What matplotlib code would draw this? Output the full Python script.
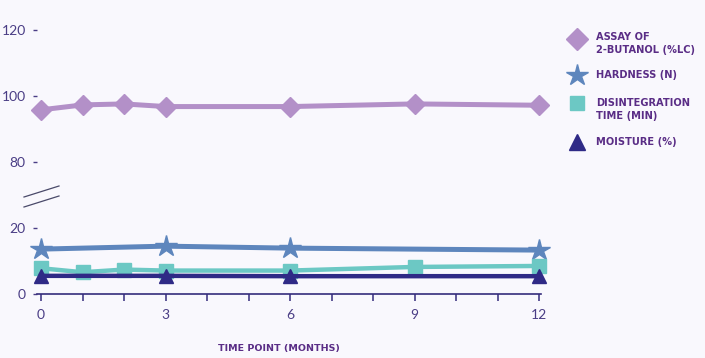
import matplotlib
matplotlib.use("Agg")
import numpy as np
from matplotlib import pyplot as plt
from matplotlib.lines import Line2D

plt.rcParams['font.family'] = ['Lato', 'DejaVu Sans']

# data
months_full = [0, 1, 2, 3, 6, 9, 12]
months_part = [0, 3, 6, 12]
assay = [95.8, 97.3, 97.6, 96.8, 96.8, 97.6, 97.2]
hardness = [13.6, 14.5, 13.9, 13.3]
disintegration = [7.8, 6.6, 7.4, 7.1, 7.1, 8.2, 8.5]
moisture = [5.5, 5.5, 5.4, 5.4]

ytick_vals = [0, 20, 80, 100, 120]
xtick_labels = [0, 3, 6, 9, 12]

legend_labels = ['ASSAY OF\n2-BUTANOL (%LC)', 'HARDNESS (N)',
                 'DISINTEGRATION\nTIME (MIN)', 'MOISTURE (%)']

c_assay = '#b390c8'
c_hard = '#5e86bd'
c_dis = '#6cc8c4'
c_moist = '#2f2a86'
c_text = '#4a3d85'
c_leg = '#5a2d86'
bg = '#f9f8fd'
label_font = ['DejaVu Sans']

def squash(v):
    # broken axis: 20..80 squeezed into one 20-unit step
    v = np.asarray(v, dtype=float)
    return np.where(v >= 80, v - 40, v)

fig = plt.figure(figsize=(7.05, 3.58), dpi=100, facecolor=bg)
W, H = 705, 358
x0, x1 = -0.1, 12.05
pxm = 41.5
left_px = 41 + x0 * pxm
right_px = 539 + (x1 - 12) * pxm
ytop = 81
top_px = 294 - ytop * 3.3
ax = fig.add_axes([left_px / W, 1 - 294 / H, (right_px - left_px) / W, (294 - top_px) / H])
ax.set_facecolor(bg)

kw = dict(clip_on=False)
ax.plot(months_full, squash(assay), color=c_assay, lw=3.6, marker='D', ms=10.5, **kw)
ax.plot(months_part, squash(hardness), color=c_hard, lw=3.6, marker='*', ms=16, **kw)
ax.plot(months_full, squash(disintegration), color=c_dis, lw=3.2, marker='s', ms=9.5, **kw)
ax.plot(months_part, squash(moisture), color=c_moist, lw=3.2, marker='^', ms=10.5, **kw)

ax.set_xlim(x0, x1)
ax.set_ylim(0, ytop)
ax.set_xticks(np.arange(0, 13, 1))
ax.set_xticklabels([str(m) if m in xtick_labels else '' for m in range(13)])
ax.set_yticks(squash(ytick_vals))
ax.set_yticklabels([str(v) for v in ytick_vals])

for s in ['top', 'right', 'left']:
    ax.spines[s].set_visible(False)
ax.spines['bottom'].set_color('#352c7c')
ax.spines['bottom'].set_linewidth(1.2)
ax.tick_params(axis='x', colors='#352c7c', labelcolor=c_text, length=5, width=1.1,
               labelsize=10, pad=6)
ax.tick_params(axis='y', colors=c_text, labelcolor=c_text, length=3, width=1,
               labelsize=10, pad=5)

ax.text(279 / W, 1 - 348 / H, 'TIME POINT (MONTHS)', transform=fig.transFigure,
        ha='center', va='center', fontsize=6.8, fontweight='bold', color=c_leg,
        family=label_font)

# axis break marks
for y0 in (197, 207):
    fig.add_artist(Line2D([24 / W, 59 / W], [1 - y0 / H, 1 - (y0 - 11) / H],
                          color='#4a4a6a', lw=0.9, transform=fig.transFigure))

# legend drawn by hand
leg = [(c_assay, 'D', 11, 39, 37), (c_hard, '*', 16, 75, 75),
       (c_dis, 's', 10, 103, 103), (c_moist, '^', 11, 142, 142)]
for (col, mk, ms, my, ty), lab in zip(leg, legend_labels):
    fig.add_artist(Line2D([577 / W], [1 - my / H], marker=mk, ms=ms, color=col,
                          lw=0, transform=fig.transFigure))
    fig.text(596 / W, 1 - (ty - 5) / H, lab, ha='left', va='top', fontsize=7.1,
             fontweight='bold', color=c_leg, linespacing=1.35,
             family=label_font)

fig.savefig('out.png', dpi=100, facecolor=bg)
